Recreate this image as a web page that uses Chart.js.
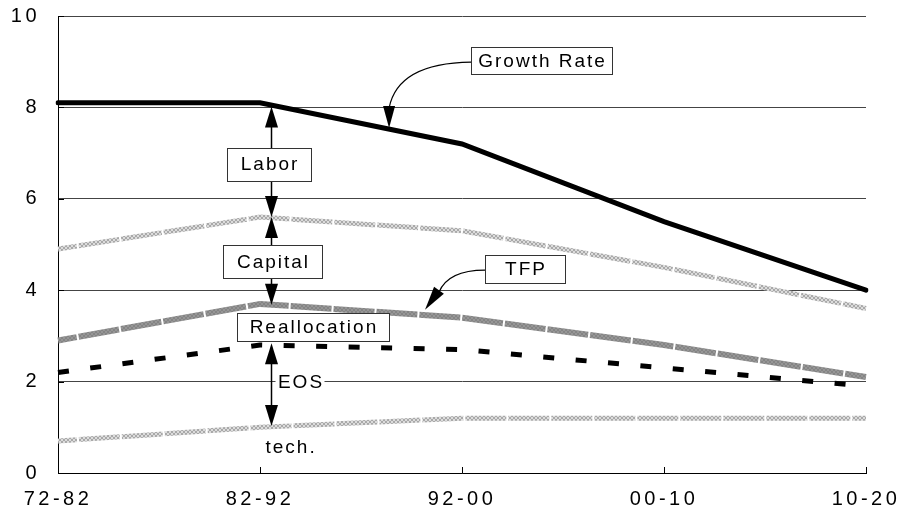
<!DOCTYPE html>
<html>
<head>
<meta charset="utf-8">
<script src="https://cdn.jsdelivr.net/npm/chart.js@4.4.1/dist/chart.umd.min.js"></script>
<style>
  html, body { margin: 0; padding: 0; background: #fff; }
  #wrap { width: 900px; height: 519px; }
</style>
</head>
<body>
<div id="wrap"><canvas id="growthChart" width="900" height="519"></canvas></div>
<script>
// periodos del eje x y marcas del eje y
const periodos = ["72-82", "82-92", "92-00", "00-10", "10-20"];
const yTicks = [0, 2, 4, 6, 8, 10];

// series
const growthRate = [8.1, 8.1, 7.2, 5.5, 4.0];
const capitalTop = [4.9, 5.6, 5.3, 4.5, 3.6];
const tfp        = [2.9, 3.7, 3.4, 2.8, 2.1];
const eosTop     = [2.2, 2.8, 2.7, 2.3, 1.9];
const techTop    = [0.7, 1.0, 1.2, 1.2, 1.2];

// cajas de texto (posicion en coordenadas de datos: x = indice del periodo, y = valor)
const cajas = [
  { texto: "Growth Rate",  x: 2.394, y: 9.03, w: 141, h: 27 },
  { texto: "Labor",        x: 1.045, y: 6.76, w: 84,  h: 33 },
  { texto: "Capital",      x: 1.062, y: 4.63, w: 99,  h: 33 },
  { texto: "TFP",          x: 2.312, y: 4.46, w: 80,  h: 28 },
  { texto: "Reallocation", x: 1.262, y: 3.19, w: 152, h: 28 }
];
// textos sueltos
const textos = [
  { texto: "EOS",   x: 1.198, y: 1.97, fondo: 49 },
  { texto: "tech.", x: 1.149, y: 0.55, fondo: 0 }
];
// flechas dobles verticales
const flechas = [
  { x: 1.054, arriba: 8.02, abajo: 5.6 },
  { x: 1.054, arriba: 5.6,  abajo: 3.68 },
  { x: 1.054, arriba: 2.84, abajo: 1.03 }
];
// llamadas curvas (inicio, control, base de la punta, punta)
const llamadas = [
  { ini: [2.045, 8.99], ctl: [1.683, 8.97], base: [1.639, 8.03], punta: [1.639, 7.55] },
  { ini: [2.114, 4.44], ctl: [1.931, 4.44], base: [1.886, 4.0],  punta: [1.817, 3.57] }
];

const ctx = document.getElementById("growthChart").getContext("2d");

function trama(fondo, punto) {
  const c = document.createElement("canvas");
  c.width = 4; c.height = 4;
  const g = c.getContext("2d");
  g.fillStyle = fondo; g.fillRect(0, 0, 4, 4);
  g.fillStyle = punto;
  for (let i = 0; i < 4; i++) { g.fillRect(i, i, 1, 1); g.fillRect(3 - i, i, 1, 1); }
  return ctx.createPattern(c, "repeat");
}
const grisClaro = trama("#dcdcdc", "#a9a9a9");
const grisMedio = trama("#969696", "#848484");

function punta(c, bx, by, tx, ty, medio) {
  const dx = tx - bx, dy = ty - by;
  const len = Math.hypot(dx, dy);
  const nx = -dy / len * medio, ny = dx / len * medio;
  c.beginPath();
  c.moveTo(tx, ty);
  c.lineTo(bx + nx, by + ny);
  c.lineTo(bx - nx, by - ny);
  c.closePath();
  c.fill();
}

const anotaciones = {
  id: "anotaciones",
  beforeDraw(chart) {
    chart.ctx.letterSpacing = "3.5px";
  },
  beforeDatasetsDraw(chart) {
    const { ctx: c, scales: { x, y } } = chart;
    c.save();
    c.strokeStyle = "#000";
    c.lineWidth = 1;
    c.beginPath();
    yTicks.forEach(v => {
      const py = Math.round(y.getPixelForValue(v)) + 0.5;
      c.moveTo(x.left, py); c.lineTo(x.left + 6, py);
    });
    periodos.forEach((p, i) => {
      const px = Math.round(x.getPixelForValue(i)) + 0.5;
      c.moveTo(px, y.bottom); c.lineTo(px, y.bottom - 6);
    });
    c.stroke();
    c.restore();
  },
  afterDatasetsDraw(chart) {
    const { ctx: c, scales: { x, y } } = chart;
    const P = (xi, yv) => [x.getPixelForValue(xi), y.getPixelForValue(yv)];
    c.save();
    c.letterSpacing = "2px";
    c.font = '19px "Liberation Sans"';
    c.textAlign = "center";
    c.textBaseline = "middle";
    c.fillStyle = "#000";
    c.strokeStyle = "#000";

    // flechas dobles
    flechas.forEach(f => {
      const px = Math.round(x.getPixelForValue(f.x)) + 0.5;
      const yA = y.getPixelForValue(f.arriba), yB = y.getPixelForValue(f.abajo);
      c.lineWidth = 1.5;
      c.beginPath(); c.moveTo(px, yA + 10); c.lineTo(px, yB - 10); c.stroke();
      punta(c, px, yA + 21, px, yA, 6.5);
      punta(c, px, yB - 21, px, yB, 6.5);
    });

    // llamadas curvas
    llamadas.forEach(l => {
      const a = P(...l.ini), k = P(...l.ctl), b = P(...l.base), t = P(...l.punta);
      c.lineWidth = 1.2;
      c.beginPath(); c.moveTo(a[0], a[1]); c.quadraticCurveTo(k[0], k[1], b[0], b[1] + 2); c.stroke();
      punta(c, b[0], b[1], t[0], t[1], 6);
    });

    // cajas
    cajas.forEach(b => {
      const [cx, cy] = P(b.x, b.y);
      const x0 = Math.round(cx - b.w / 2) + 0.5, y0 = Math.round(cy - b.h / 2) + 0.5;
      c.fillStyle = "#fff";
      c.fillRect(x0, y0, b.w, b.h);
      c.lineWidth = 1;
      c.strokeStyle = "#333";
      c.strokeRect(x0, y0, b.w, b.h);
      c.fillStyle = "#000";
      c.fillText(b.texto, cx + 1, cy + 1);
    });

    // textos sueltos
    textos.forEach(t => {
      const [cx, cy] = P(t.x, t.y);
      if (t.fondo) {
        c.fillStyle = "#fff";
        c.fillRect(cx - t.fondo / 2, cy - 12, t.fondo, 24);
      }
      c.fillStyle = "#000";
      c.fillText(t.texto, cx + 1, cy);
    });
    c.restore();
  }
};

const growthChart = new Chart(ctx, {
  type: "line",
  data: {
    labels: periodos,
    datasets: [
      { label: "Growth Rate", data: growthRate, borderColor: "#000", borderWidth: 5,
        borderCapStyle: "round", pointRadius: 0, tension: 0 },
      { label: "EOS", data: eosTop, borderColor: "#000", borderWidth: 5,
        borderDash: [11, 21.5], pointRadius: 0, tension: 0 },
      { label: "TFP", data: tfp, borderColor: grisMedio, borderWidth: 6,
        borderDash: [41, 2], borderDashOffset: 22, pointRadius: 0, tension: 0 },
      { label: "Capital", data: capitalTop, borderColor: grisClaro, borderWidth: 5,
        borderDash: [41, 2], borderDashOffset: 22, pointRadius: 0, tension: 0 },
      { label: "tech.", data: techTop, borderColor: grisClaro, borderWidth: 5,
        borderDash: [41, 2], borderDashOffset: 22, pointRadius: 0, tension: 0 }
    ]
  },
  options: {
    responsive: false,
    animation: false,
    devicePixelRatio: 1,
    layout: { padding: { top: 16, right: 34, left: 0, bottom: 0 } },
    plugins: { legend: { display: false }, tooltip: { enabled: false } },
    scales: {
      x: {
        offset: false,
        grid: { display: true, color: "rgba(0,0,0,0)", drawTicks: false },
        border: { display: true, color: "#000", width: 1 },
        ticks: { color: "#000", font: { family: "Liberation Sans", size: 20 }, padding: 14, maxRotation: 0 },
        afterFit: s => { s.height = 46; s.paddingLeft = 0; s.paddingRight = 0; }
      },
      y: {
        min: 0, max: 10,
        afterBuildTicks: s => { s.ticks = yTicks.map(v => ({ value: v })); },
        grid: { color: "#444", lineWidth: 1, drawTicks: false },
        border: { display: true, color: "#000", width: 1 },
        ticks: { color: "#000", font: { family: "Liberation Sans", size: 20 }, padding: 18 },
        afterFit: s => { s.width = 58; s.paddingTop = 0; s.paddingBottom = 0; }
      }
    }
  },
  plugins: [anotaciones]
});
</script>
</body>
</html>
